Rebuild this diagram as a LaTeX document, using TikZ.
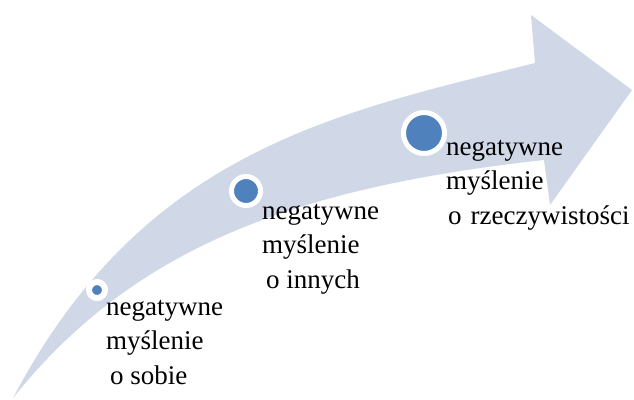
\documentclass[tikz,border=0pt]{standalone}
\usepackage{fontspec}
\setmainfont{Liberation Serif}
\definecolor{bandfill}{RGB}{208,216,232}
\definecolor{dotfill}{RGB}{79,129,189}
\begin{document}
\begin{tikzpicture}[x=1pt,y=-1pt,
  dot/.style={circle, fill=dotfill, draw=white, inner sep=0pt},
  lbl/.style={anchor=base west, inner sep=0pt, text=black, font=\fontsize{27}{34.5}\selectfont}]
\useasboundingbox (0,0) rectangle (634,399);
\coordinate (tail) at (13,398);
\coordinate (ui) at (535,63);
\coordinate (ub) at (531,15);
\coordinate (tip) at (632,90);
\coordinate (lb) at (550,205);
\coordinate (li) at (544,160);
\fill[bandfill] (tail) .. controls (143,151) and (335,113) .. (ui)
  -- (ub) -- (tip) -- (lb) -- (li)
  .. controls (294,187.5) and (133,248) .. (tail) -- cycle;
\node[dot, line width=6pt, minimum size=16pt] (c1) at (97,290) {};
\node[dot, line width=5pt, minimum size=29pt] (c2) at (246,191) {};
\node[dot, line width=5pt, minimum size=41pt] (c3) at (424,133) {};
\node[lbl] (t1) at (106,315) {\vtop{\hbox{negatywne}\hbox{myślenie}\hbox{\hspace{4pt}o sobie}}};
\node[lbl] (t2) at (262,219) {\vtop{\hbox{negatywne}\hbox{myślenie}\hbox{\hspace{4pt}o innych}}};
\node[lbl] (t3) at (446,155) {\vtop{\hbox{negatywne}\hbox{myślenie}\hbox{\hspace{2pt}o\hspace{9pt}rzeczywistości}}};
\end{tikzpicture}
\end{document}
